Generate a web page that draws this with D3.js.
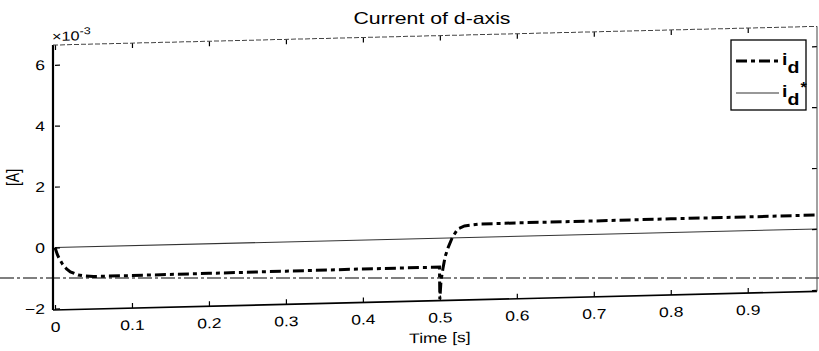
<!DOCTYPE html>
<html>
<head>
<meta charset="utf-8">
<script src="https://cdn.jsdelivr.net/npm/d3@7"></script>
<style>
  body { margin: 0; background: #fff; }
  svg { display: block; font-family: "Liberation Sans", Arial, sans-serif; }
</style>
</head>
<body>
<div id="container"></div>
<script>
const WIDTH = 819,
      HEIGHT = 351;

const margin = { top: 45, bottom: 41, left: 55, right: 2 };

const width = WIDTH - margin.left - margin.right,
      height = HEIGHT - margin.top - margin.bottom;

// the scanned text is a little wider than normal
const STRETCH = 1.25;

// values of the current are in units of 1e-3 A
const time = [0, 0.003, 0.005, 0.01, 0.015, 0.02, 0.03, 0.04, 0.05, 0.1, 0.2, 0.3, 0.4, 0.49, 0.4995,
              0.5, 0.5015, 0.504, 0.507, 0.511, 0.516, 0.523, 0.532, 0.55, 0.6, 0.7, 0.8, 0.9, 0.99];
const idValues = [0, -0.23, -0.34, -0.56, -0.71, -0.81, -0.92, -0.96, -0.98, -0.98, -0.97, -0.96, -0.95, -0.95, -0.95,
                  -2.0, -1.4, -1.0, -0.6, -0.3, 0.0, 0.28, 0.38, 0.43, 0.44, 0.44, 0.45, 0.45, 0.46];
const idRefTime = [0, 0.99];
const idRefValues = [0, 0];
const artifactLevel = -1;

const xTicks = [0, 0.1, 0.2, 0.3, 0.4, 0.5, 0.6, 0.7, 0.8, 0.9];
const yTicks = [-2, 0, 2, 4, 6];
const xDomain = [0, 0.99];
const yDomain = [-2.05, 6.65];

const svg = d3.select('#container').append('svg')
    .attr("width", WIDTH).attr("height", HEIGHT);

const xScale = d3.scaleLinear().domain(xDomain).range([0, width]);
const yScale = d3.scaleLinear().domain(yDomain).range([height, 0]);

// scanned page: horizontal dash-dot line running across the sheet
svg.append("line")
    .attr("x1", 0).attr("x2", WIDTH)
    .attr("y1", margin.top + yScale(artifactLevel))
    .attr("y2", margin.top + yScale(artifactLevel))
    .attr("stroke", "#555")
    .attr("stroke-width", 1.3)
    .attr("stroke-dasharray", "14,3,3,3");

// the scan is slightly sheared
const container = svg.append("g")
    .attr("transform", `translate(${margin.left}, ${margin.top}) skewY(-1.4)`);

const line = d3.line()
    .x((d) => xScale(d[0]))
    .y((d) => yScale(d[1]));

container.append("path")
    .datum(d3.zip(idRefTime, idRefValues))
    .attr("d", line)
    .attr("fill", "none")
    .attr("stroke", "#333")
    .attr("stroke-width", 1.1);

container.append("path")
    .datum(d3.zip(time, idValues))
    .attr("d", line)
    .attr("fill", "none")
    .attr("stroke", "#000")
    .attr("stroke-width", 3)
    .attr("stroke-dasharray", "11,4,4,4");

// axes
const xAxis = d3.axisBottom(xScale).tickValues(xTicks).tickSize(-5).tickPadding(12)
    .tickFormat((d) => d === 0 ? "0" : d3.format(".1f")(d));
const yAxis = d3.axisLeft(yScale).tickValues(yTicks).tickSize(-5).tickPadding(8)
    .tickFormat(d3.format("d"));

const gx = container.append("g")
    .attr("transform", `translate(0, ${height})`)
    .call(xAxis);
gx.select(".domain").remove();
gx.selectAll("text").attr("font-size", 14).attr("fill", "#000")
    .attr("transform", `scale(${STRETCH},1)`);

const gy = container.append("g").call(yAxis);
gy.select(".domain").remove();
gy.selectAll("text").attr("font-size", 14).attr("fill", "#000")
    .attr("transform", `scale(${STRETCH},1)`);

const gTop = container.append("g")
    .call(d3.axisTop(xScale).tickValues(xTicks).tickSize(-5).tickFormat(""));
gTop.select(".domain").remove();

const gRight = container.append("g")
    .attr("transform", `translate(${width}, 0)`)
    .call(d3.axisRight(yScale).tickValues(yTicks).tickSize(-5).tickFormat(""));
gRight.select(".domain").remove();

container.selectAll(".tick line").attr("stroke", "#000").attr("stroke-width", 1.2);

// box
container.append("line").attr("x1", -2).attr("x2", -2).attr("y1", 0).attr("y2", height)
    .attr("stroke", "#000").attr("stroke-width", 2.2);
container.append("line").attr("x1", -2).attr("x2", width).attr("y1", height).attr("y2", height)
    .attr("stroke", "#000").attr("stroke-width", 1.6);
container.append("line").attr("x1", -2).attr("x2", width).attr("y1", 0).attr("y2", 0)
    .attr("stroke", "#444").attr("stroke-width", 1).attr("stroke-dasharray", "5,2");
container.append("line").attr("x1", width).attr("x2", width).attr("y1", 0).attr("y2", height)
    .attr("stroke", "#444").attr("stroke-width", 1);

// exponent label
const expo = container.append("text")
    .attr("transform", `translate(-3, -4) scale(${STRETCH},1)`)
    .attr("font-size", 13)
    .text("\u00d710");
expo.append("tspan").attr("dy", -6).attr("font-size", 10).text("-3");

// axis labels
container.append("text")
    .attr("transform", `translate(${xScale(0.5)}, ${height + 42}) scale(${STRETCH},1)`)
    .attr("text-anchor", "middle")
    .attr("font-size", 14)
    .text("Time [s]");

svg.append("text")
    .attr("transform", `translate(19, ${margin.top + height / 2}) rotate(-90) scale(1,${STRETCH})`)
    .attr("text-anchor", "middle")
    .attr("font-size", 14)
    .text("[A]");

svg.append("text")
    .attr("transform", `translate(432, 24) scale(${STRETCH},1)`)
    .attr("text-anchor", "middle")
    .attr("font-size", 17)
    .text("Current of d-axis");

// legend
const legend = svg.append("g").attr("transform", "translate(731, 40)");
legend.append("rect")
    .attr("width", 75).attr("height", 70)
    .attr("fill", "#fff").attr("stroke", "#000").attr("stroke-width", 1.3);

const legendItems = [
    { y: 21, width: 3, dash: "11,4,4,4", color: "#000", star: false },
    { y: 53, width: 1.1, dash: null, color: "#333", star: true },
];
legendItems.forEach((item) => {
    legend.append("line")
        .attr("x1", 5).attr("x2", 48).attr("y1", item.y).attr("y2", item.y)
        .attr("stroke", item.color).attr("stroke-width", item.width)
        .attr("stroke-dasharray", item.dash);
    const t = legend.append("text")
        .attr("transform", `translate(51, ${item.y + 4}) scale(1.15,1)`)
        .attr("font-size", 17)
        .attr("font-weight", "bold")
        .text("i");
    t.append("tspan").attr("dy", 8).attr("font-size", 17).text("d");
    if (item.star) {
        t.append("tspan").attr("dy", -13).attr("dx", 1).attr("font-size", 14).text("*");
    }
});
</script>
</body>
</html>
